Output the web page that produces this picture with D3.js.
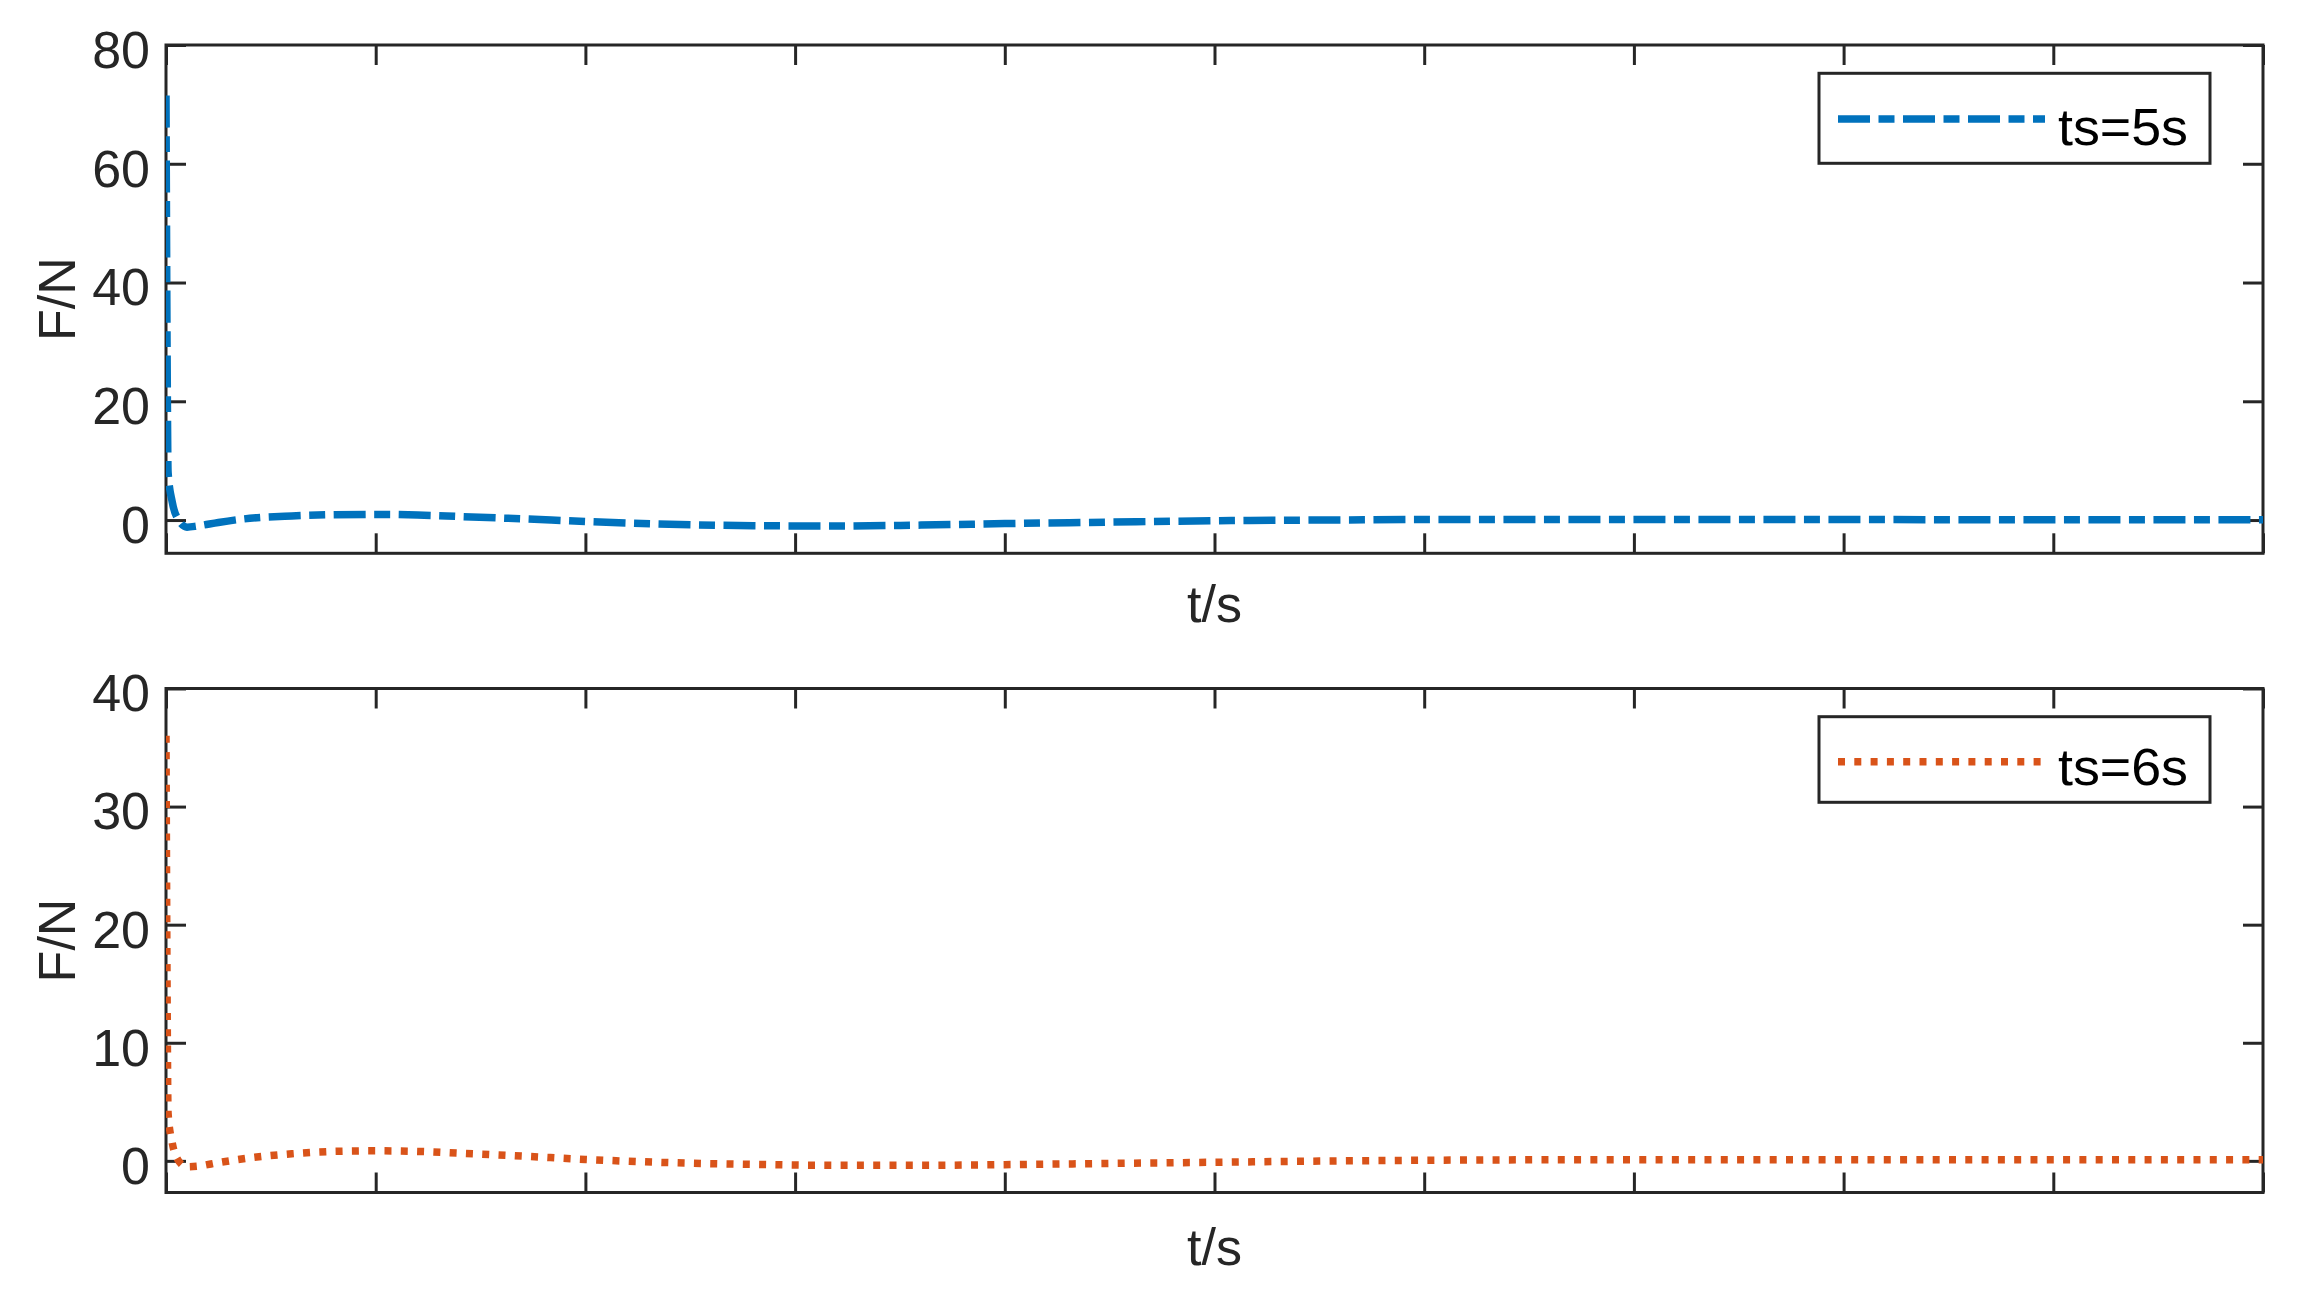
<!DOCTYPE html>
<html><head><meta charset="utf-8">
<script src="https://cdn.jsdelivr.net/npm/d3@7"></script>
<style>body{margin:0;background:#fff}svg{display:block}</style>
</head><body><svg id="c" width="2299" height="1297"></svg>
<script>
// ---- data ----
const time = [0, 0.005, 0.01, 0.03, 0.06, 0.1, 0.15, 0.25, 0.4, 0.6, 0.8, 1.0, 1.2, 1.4, 1.7, 2.0, 2.4, 2.8, 3.2, 3.6, 4.0, 4.5, 5.0, 5.5, 6, 7, 8, 9, 10];
const forceTs5 = [71.5, 30, 8, 3, 0, -1.2, -1.0, -0.4, 0.3, 0.7, 0.9, 0.95, 0.85, 0.6, 0.2, -0.25, -0.7, -0.95, -1.0, -0.85, -0.6, -0.35, -0.12, 0.0, 0.08, 0.1, 0.08, 0.05, 0.05];
const forceTs6 = [36, 15, 4, 1.5, 0, -0.5, -0.45, -0.15, 0.25, 0.6, 0.8, 0.85, 0.8, 0.65, 0.4, 0.12, -0.15, -0.3, -0.38, -0.38, -0.32, -0.22, -0.12, -0.02, 0.05, 0.1, 0.1, 0.1, 0.1];
const xTicks = [0, 1, 2, 3, 4, 5, 6, 7, 8, 9, 10];
const yTicksTop = [0, 20, 40, 60, 80];
const yTicksBottom = [0, 10, 20, 30, 40];
const legendTop = "ts=5s";
const legendBottom = "ts=6s";
const xLabel = "t/s";
const yLabel = "F/N";

// ---- layout ----
const svg = d3.select("#c");
const L = 166, R = 2263;
const FONT = "'Liberation Sans', Arial, sans-serif";
const AX = "#262626";

const panels = [
  { values: forceTs5, ticks: yTicksTop, domain: [-5.6, 80], top: 45, bottom: 553.3,
    color: "#0072BD", dash: "32,8.5,16,8.5", sw: 7.5, legend: legendTop,
    box: [1819, 73.3, 391, 90], legY: 119, textY: 145, labelY: 622 },
  { values: forceTs6, ticks: yTicksBottom, domain: [-2.68, 40], top: 688.5, bottom: 1192.5,
    color: "#D95319", dash: "7,9.3", sw: 7.5, legend: legendBottom,
    box: [1819, 716.7, 391, 85.6], legY: 761.7, textY: 785, labelY: 1265 }
];

const x = d3.scaleLinear().domain([0, 10]).range([L, R]);

panels.forEach((p, i) => {
  const y = d3.scaleLinear().domain(p.domain).range([p.bottom, p.top]);
  const g = svg.append("g");

  const cid = "clip" + i;
  svg.append("clipPath").attr("id", cid).append("rect")
    .attr("x", L).attr("y", p.top).attr("width", R - L).attr("height", p.bottom - p.top);

  const styleAxis = sel => {
    sel.select(".domain").remove();
    sel.selectAll(".tick line").attr("stroke", AX).attr("stroke-width", 3);
    sel.selectAll(".tick text").attr("fill", AX).attr("font-family", FONT).attr("font-size", 52);
  };

  g.append("g").attr("transform", `translate(0,${p.bottom})`)
    .call(d3.axisBottom(x).tickValues(xTicks).tickSize(-20).tickFormat("")).call(styleAxis);
  g.append("g").attr("transform", `translate(0,${p.top})`)
    .call(d3.axisTop(x).tickValues(xTicks).tickSize(-20).tickFormat("")).call(styleAxis);
  g.append("g").attr("transform", `translate(${L},0)`)
    .call(d3.axisLeft(y).tickValues(p.ticks).tickSize(-20).tickPadding(16).tickFormat(d3.format("d")))
    .call(styleAxis)
    .call(s => s.selectAll(".tick text").attr("dy", "0.43em"));
  g.append("g").attr("transform", `translate(${R},0)`)
    .call(d3.axisRight(y).tickValues(p.ticks).tickSize(-20).tickFormat("")).call(styleAxis);

  g.append("rect").attr("x", L).attr("y", p.top).attr("width", R - L).attr("height", p.bottom - p.top)
    .attr("fill", "none").attr("stroke", AX).attr("stroke-width", 3);

  const line = d3.line().x((d, k) => x(time[k])).y(d => y(d)).curve(d3.curveMonotoneX);
  g.append("path").datum(p.values).attr("d", line).attr("clip-path", `url(#${cid})`)
    .attr("fill", "none").attr("stroke", p.color).attr("stroke-width", p.sw)
    .attr("stroke-dasharray", p.dash);

  g.append("text").attr("x", (L + R) / 2).attr("y", p.labelY).attr("text-anchor", "middle")
    .attr("font-family", FONT).attr("font-size", 52).attr("fill", AX).text(xLabel);
  g.append("text").attr("transform", `translate(75,${(p.top + p.bottom) / 2}) rotate(-90)`)
    .attr("text-anchor", "middle").attr("font-family", FONT).attr("font-size", 52).attr("fill", AX).text(yLabel);

  const [bx, by, bw, bh] = p.box;
  g.append("rect").attr("x", bx).attr("y", by).attr("width", bw).attr("height", bh)
    .attr("fill", "#fff").attr("stroke", AX).attr("stroke-width", 3);
  g.append("line").attr("x1", 1838).attr("x2", 2045).attr("y1", p.legY).attr("y2", p.legY)
    .attr("stroke", p.color).attr("stroke-width", p.sw).attr("stroke-dasharray", p.dash);
  g.append("text").attr("x", 2058).attr("y", p.textY).attr("font-family", FONT).attr("font-size", 52)
    .attr("fill", "#000").attr("textLength", 130).attr("lengthAdjust", "spacingAndGlyphs").text(p.legend);
});
</script></body></html>
